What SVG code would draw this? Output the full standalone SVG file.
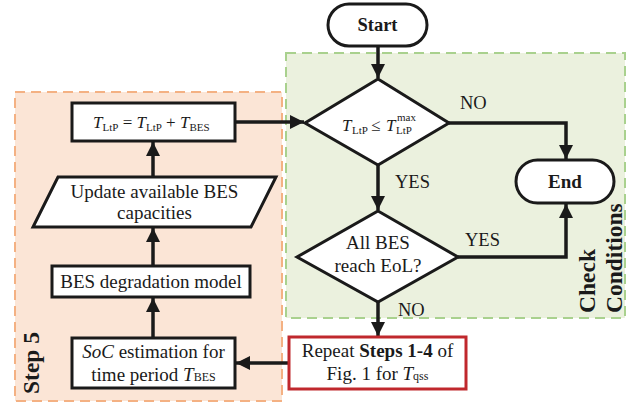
<svg xmlns="http://www.w3.org/2000/svg" width="636" height="405" viewBox="0 0 636 405">
<style>
text{font-family:"Liberation Serif","Times New Roman",serif;fill:#1a1a1a}
.t{font-size:19px}
.b{font-weight:bold}
.i{font-style:italic}
.box{fill:#fff;stroke:#1a1a1a;stroke-width:3}
.con{fill:none;stroke:#1a1a1a;stroke-width:3.5}
.lbl{font-size:18.5px}
.rot{font-size:23.5px;font-weight:bold}
</style>
<defs>
<marker id="ah" markerUnits="userSpaceOnUse" markerWidth="16" markerHeight="16" refX="14" refY="7" orient="auto">
<path d="M0,0 L14,7 L0,14 Z" fill="#1a1a1a"/>
</marker>
</defs>
<rect x="0" y="0" width="636" height="405" fill="#fff"/>
<g id="step5-region">
<rect x="15" y="92" width="267" height="309" fill="#fbe5d6" stroke="#f4b183" stroke-width="2" stroke-dasharray="10,6"/>
<text class="rot" transform="translate(39,363) rotate(-90)" text-anchor="middle">Step 5</text>
</g>
<g id="check-region">
<rect x="286" y="53" width="339" height="265" fill="#ebf1de" stroke="#a9d18e" stroke-width="2" stroke-dasharray="10,6"/>
<text class="rot" transform="translate(595,313) rotate(-90)">Check</text>
<text class="rot" transform="translate(622,313) rotate(-90)">Conditions</text>
</g>
<g id="connectors">
<path class="con" d="M378,47 V78" marker-end="url(#ah)"/>
<path class="con" d="M449,123 H566 V159" marker-end="url(#ah)"/>
<path class="con" d="M378,165 V210" marker-end="url(#ah)"/>
<path class="con" d="M458,257 H566 V204" marker-end="url(#ah)"/>
<path class="con" d="M378,302 V336" marker-end="url(#ah)"/>
<path class="con" d="M289,363 H236" marker-end="url(#ah)"/>
<path class="con" d="M153,338 V298" marker-end="url(#ah)"/>
<path class="con" d="M153,266 V228" marker-end="url(#ah)"/>
<path class="con" d="M153,177 V142" marker-end="url(#ah)"/>
<path class="con" d="M235,122 H304" marker-end="url(#ah)"/>
<text class="lbl" x="460" y="109">NO</text>
<text class="lbl" x="395" y="188">YES</text>
<text class="lbl" x="465" y="246">YES</text>
<text class="lbl" x="398" y="316">NO</text>
</g>
<g id="start">
<rect class="box" x="328" y="4" width="99" height="42" rx="21"/>
<text class="b" font-size="18.5" x="377.5" y="31" text-anchor="middle">Start</text>
</g>
<g id="check-lifetime">
<polygon class="box" points="378,79 449,123 378,165 305,123"/>
<text font-size="17" x="342" y="131"><tspan class="i">T</tspan></text>
<text font-size="11" x="352" y="134">LtP</text>
<text font-size="17" x="371" y="131">≤</text>
<text font-size="17" x="386" y="131" class="i">T</text>
<text font-size="11" x="396" y="134">LtP</text>
<text font-size="11" x="397" y="121">max</text>
</g>
<g id="end">
<rect class="box" x="516" y="160" width="98" height="43" rx="21.5"/>
<text class="b" font-size="19" x="565" y="188" text-anchor="middle">End</text>
</g>
<g id="check-eol">
<polygon class="box" points="378,211 458,257 378,302 297,257"/>
<text class="t" x="378" y="249" text-anchor="middle">All BES</text>
<text class="t" x="378" y="272" text-anchor="middle">reach EoL?</text>
</g>
<g id="repeat">
<rect x="289" y="337" width="177" height="52" fill="#fff" stroke="#c0282d" stroke-width="3"/>
<text class="t" x="377.5" y="357" text-anchor="middle">Repeat <tspan class="b">Steps 1-4</tspan> of</text>
<text class="t" x="377.5" y="380" text-anchor="middle">Fig. 1 for <tspan class="i">T</tspan><tspan font-size="12">qss</tspan></text>
</g>
<g id="soc">
<rect class="box" x="72" y="338" width="163" height="50"/>
<text class="t" x="153.5" y="358" text-anchor="middle"><tspan class="i">SoC</tspan> estimation for</text>
<text class="t" x="153.5" y="381" text-anchor="middle">time period <tspan class="i">T</tspan><tspan font-size="12">BES</tspan></text>
</g>
<g id="degradation">
<rect class="box" x="52" y="266" width="198" height="31"/>
<text class="t" x="151" y="288" text-anchor="middle">BES degradation model</text>
</g>
<g id="update">
<polygon class="box" points="58,177 276,177 251,227 33,227"/>
<text class="t" x="154.5" y="198" text-anchor="middle">Update available BES</text>
<text class="t" x="154.5" y="219" text-anchor="middle">capacities</text>
</g>
<g id="lifetime-update">
<rect class="box" x="72" y="103" width="163" height="38"/>
<text font-size="17" x="93" y="128"><tspan class="i">T</tspan><tspan font-size="11" dy="3">LtP</tspan><tspan dy="-3"> = </tspan><tspan class="i">T</tspan><tspan font-size="11" dy="3">LtP</tspan><tspan dy="-3"> + </tspan><tspan class="i">T</tspan><tspan font-size="11" dy="3">BES</tspan></text>
</g>
</svg>
